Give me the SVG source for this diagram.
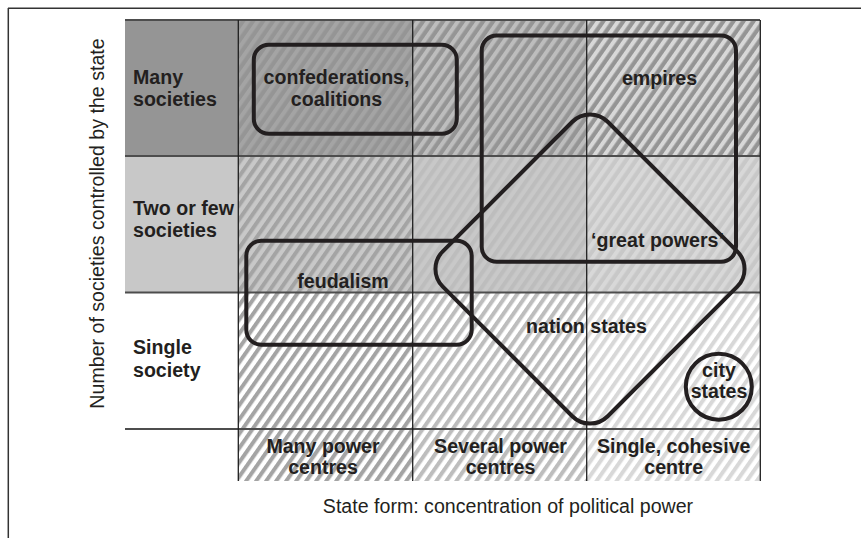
<svg xmlns="http://www.w3.org/2000/svg" width="861" height="538" viewBox="0 0 861 538">
<style>
.lbl{font-family:"Liberation Sans",Arial,Helvetica,sans-serif;font-size:19.6px;font-weight:bold;fill:#231f20}
.mid{text-anchor:middle}
.axis{font-family:"Liberation Sans",Arial,Helvetica,sans-serif;font-size:19.6px;fill:#231f20;text-anchor:middle}
.shape{fill:none;stroke:#231f20;stroke-width:4}
.hline{stroke:#4d4d4d;stroke-width:2}
.vline{stroke:#1f1f1f;stroke-width:1.3}
</style>
<defs>
<pattern id="h1" width="8.2" height="10" patternUnits="userSpaceOnUse" patternTransform="rotate(35)"><rect width="4" height="10" fill="#a4a4a4"/></pattern>
<pattern id="h2" width="8.2" height="10" patternUnits="userSpaceOnUse" patternTransform="rotate(35)"><rect width="4" height="10" fill="#bdbdbd"/></pattern>
<pattern id="h3" width="8.2" height="10" patternUnits="userSpaceOnUse" patternTransform="rotate(35)"><rect width="4" height="10" fill="#d8d8d8"/></pattern>
</defs>
<rect width="861" height="538" fill="#fff"/>
<g id="frame" stroke="#333" stroke-width="1.5" fill="none">
<line x1="8" y1="8.3" x2="861" y2="8.3"/>
<line x1="8.3" y1="8" x2="8.3" y2="538"/>
</g>
<g id="grid">
<rect x="125" y="20" width="635" height="136" fill="#959595"/>
<rect x="125" y="156" width="635" height="136" fill="#c8c8c8"/>
<rect x="238" y="20" width="175" height="461" fill="url(#h1)"/>
<rect x="413" y="20" width="174" height="461" fill="url(#h2)"/>
<rect x="587" y="20" width="173" height="461" fill="url(#h3)"/>
<line class="hline" x1="125" y1="20" x2="760" y2="20"/>
<line class="hline" x1="125" y1="156" x2="760" y2="156"/>
<line class="hline" x1="125" y1="292.5" x2="760" y2="292.5"/>
<line class="hline" x1="125" y1="429" x2="760" y2="429"/>
<line class="vline" x1="238.3" y1="20" x2="238.3" y2="481"/>
<line class="vline" x1="412.7" y1="20" x2="412.7" y2="481"/>
<line class="vline" x1="586.7" y1="20" x2="586.7" y2="481"/>
<line class="vline" x1="760.3" y1="20" x2="760.3" y2="481"/>
</g>
<g id="connectors"></g>
<g id="confederations">
<rect class="shape" x="253.8" y="44.7" width="203" height="89" rx="15"/>
<text class="lbl mid" x="336.5" y="83.5">confederations,</text>
<text class="lbl mid" x="336.5" y="105.5">coalitions</text>
</g>
<g id="empires">
<rect class="shape" x="481.7" y="35.5" width="254.3" height="226.3" rx="15"/>
<text class="lbl mid" x="659.5" y="85">empires</text>
<text class="lbl mid" x="657.5" y="246.5">‘great powers’</text>
</g>
<g id="feudalism">
<rect class="shape" x="246.3" y="240.7" width="225.4" height="104" rx="15"/>
<text class="lbl mid" x="343" y="288">feudalism</text>
</g>
<g id="nation-states">
<rect class="shape" x="-116.6" y="-116.6" width="233.2" height="233.2" rx="25" transform="translate(590,269) rotate(45)"/>
<text class="lbl mid" x="586.5" y="333">nation states</text>
</g>
<g id="city-states">
<circle class="shape" cx="718.8" cy="386.7" r="33"/>
<text class="lbl mid" x="719" y="376.5">city</text>
<text class="lbl mid" x="719" y="398">states</text>
</g>
<g id="row-many">
<text class="lbl" x="133" y="83.5">Many</text>
<text class="lbl" x="133" y="105.5">societies</text>
</g>
<g id="row-few">
<text class="lbl" x="133" y="215">Two or few</text>
<text class="lbl" x="133" y="237">societies</text>
</g>
<g id="row-single">
<text class="lbl" x="133" y="354">Single</text>
<text class="lbl" x="133" y="376.5">society</text>
</g>
<g id="col-many">
<text class="lbl mid" x="323" y="453">Many power</text>
<text class="lbl mid" x="323" y="474">centres</text>
</g>
<g id="col-several">
<text class="lbl mid" x="500.5" y="453">Several power</text>
<text class="lbl mid" x="500.5" y="474">centres</text>
</g>
<g id="col-single">
<text class="lbl mid" x="673.7" y="453">Single, cohesive</text>
<text class="lbl mid" x="673.7" y="474">centre</text>
</g>
<g id="axes">
<text class="axis" x="508" y="513">State form: concentration of political power</text>
<text class="axis" transform="translate(103.5,223.5) rotate(-90)">Number of societies controlled by the state</text>
</g>
</svg>
